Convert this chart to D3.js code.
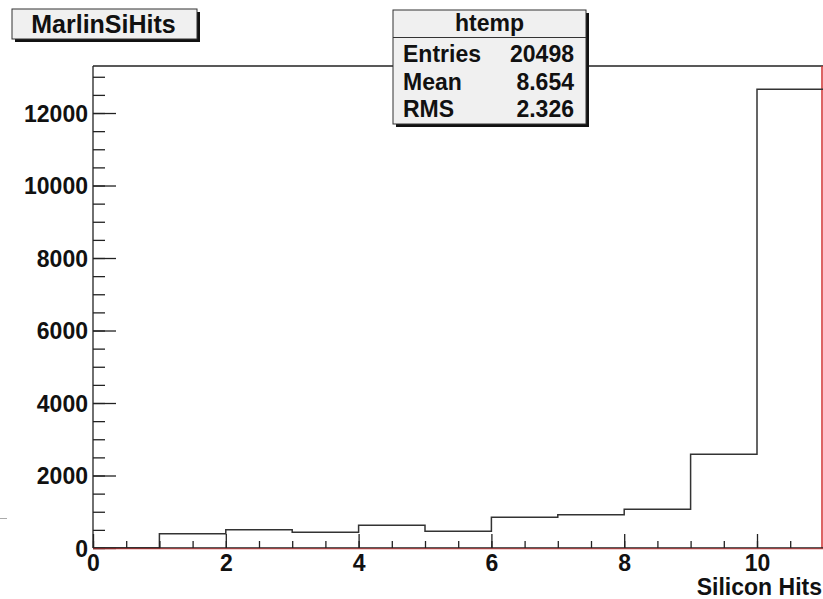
<!DOCTYPE html>
<html>
<head>
    <title>MarlinSiHits</title>
    <style>
        body { margin: 0; background: #fff; }
        svg { display: block; }
        text { font-family: "Liberation Sans", Arial, sans-serif; font-weight: bold; fill: #111; }
        .axis path, .axis line { stroke: #222; stroke-width: 1.3px; }
    </style>
    <script src="https://d3js.org/d3.v7.min.js"></script>
</head>
<body>
    <div id="chart"></div>
    <script>
        // histogram bins (lower edge, count)
        const binLow = [0, 1, 2, 3, 4, 5, 6, 7, 8, 9, 10];
        const counts = [0, 395, 505, 433, 626, 460, 847, 919, 1067, 2585, 12654];
        const binWidth = 1;

        const xMajor = [0, 2, 4, 6, 8, 10];
        const yMajor = [0, 2000, 4000, 6000, 8000, 10000, 12000];

        const histTitle = "MarlinSiHits";
        const statTitle = "htemp";
        const statNames = ["Entries", "Mean", "RMS"];
        const statValues = ["20498", "8.654", "2.326"];
        const xLabel = "Silicon Hits";

        const width = 823, height = 599;
        const m = { left: 93, right: 823.4, top: 66, bottom: 548 };
        const fs = "23px";

        const svg = d3.select("#chart").append("svg")
            .attr("width", width)
            .attr("height", height);

        const x = d3.scaleLinear().domain([0, 11]).range([m.left, m.right]);
        const y = d3.scaleLinear().domain([0, 13297]).range([m.bottom, m.top]);

        // frame
        svg.append("line")
            .attr("x1", m.left).attr("x2", width).attr("y1", m.top).attr("y2", m.top)
            .attr("stroke", "#222").attr("stroke-width", 1.5);
        svg.append("line")
            .attr("x1", width - 1).attr("x2", width - 1).attr("y1", m.top).attr("y2", m.bottom)
            .attr("stroke", "#d03030").attr("stroke-width", 1.5);

        // histogram outline
        const pts = [[x(binLow[0]), y(0)]];
        binLow.forEach((b, i) => {
            pts.push([x(b), y(counts[i])]);
            pts.push([x(b + binWidth), y(counts[i])]);
        });
        svg.append("path")
            .attr("d", d3.line()(pts))
            .attr("fill", "none")
            .attr("stroke", "#333")
            .attr("stroke-width", 1.5);

        // minor ticks
        svg.append("g")
            .attr("class", "axis")
            .attr("transform", `translate(${m.left},0)`)
            .call(d3.axisLeft(y).tickValues(d3.range(0, 13297, 500)).tickSize(-12).tickFormat(""))
            .call(g => g.select(".domain").remove());
        svg.append("g")
            .attr("class", "axis")
            .attr("transform", `translate(0,${m.bottom})`)
            .call(d3.axisBottom(x).tickValues(d3.range(0, 11, 0.5)).tickSize(-7).tickFormat(""))
            .call(g => g.select(".domain").remove());

        // major axes
        const yAxis = svg.append("g")
            .attr("class", "axis")
            .attr("transform", `translate(${m.left},0)`)
            .call(d3.axisLeft(y).tickValues(yMajor).tickFormat(d3.format("d"))
                .tickSize(-23).tickPadding(5).tickSizeOuter(0));
        yAxis.select(".domain").attr("d", `M0,${m.bottom}V${m.top}`);
        yAxis.selectAll("text").style("font-size", fs).attr("dy", "0.36em");

        const xAxis = svg.append("g")
            .attr("class", "axis")
            .attr("transform", `translate(0,${m.bottom})`)
            .call(d3.axisBottom(x).tickValues(xMajor).tickFormat(d3.format("d"))
                .tickSize(-14).tickPadding(7).tickSizeOuter(0));
        xAxis.select(".domain").attr("d", `M${m.left},0H${width}`);
        xAxis.selectAll("text").style("font-size", fs);

        svg.append("line")
            .attr("x1", m.left).attr("x2", width).attr("y1", m.bottom + 0.8).attr("y2", m.bottom + 0.8)
            .attr("stroke", "#d03030").attr("stroke-width", 0.8);

        svg.append("text")
            .attr("x", 822).attr("y", 595)
            .attr("text-anchor", "end")
            .style("font-size", fs)
            .text(xLabel);

        // small stray mark on the left
        svg.append("line")
            .attr("x1", 0).attr("x2", 7).attr("y1", 518.5).attr("y2", 518.5)
            .attr("stroke", "#aaa").attr("stroke-width", 1);

        // title box
        const tb = { x: 12, y: 9, w: 185, h: 30 };
        svg.append("rect")
            .attr("x", tb.x + 3).attr("y", tb.y + 3).attr("width", tb.w).attr("height", tb.h)
            .attr("fill", "#111");
        svg.append("rect")
            .attr("x", tb.x).attr("y", tb.y).attr("width", tb.w).attr("height", tb.h)
            .attr("fill", "#f0f0f0").attr("stroke", "#333").attr("stroke-width", 1);
        svg.append("text")
            .attr("x", tb.x + tb.w / 2 - 1).attr("y", tb.y + 24)
            .attr("text-anchor", "middle")
            .style("font-size", "25px")
            .text(histTitle);

        // stats box
        const sb = { x: 393, y: 10, w: 193, h: 114 };
        svg.append("rect")
            .attr("x", sb.x + 3).attr("y", sb.y + 3).attr("width", sb.w).attr("height", sb.h)
            .attr("fill", "#111");
        svg.append("rect")
            .attr("x", sb.x).attr("y", sb.y).attr("width", sb.w).attr("height", sb.h)
            .attr("fill", "#f0f0f0").attr("stroke", "#333").attr("stroke-width", 1);
        svg.append("line")
            .attr("x1", sb.x).attr("x2", sb.x + sb.w).attr("y1", 37.5).attr("y2", 37.5)
            .attr("stroke", "#333").attr("stroke-width", 1);
        svg.append("text")
            .attr("x", sb.x + sb.w / 2).attr("y", 31)
            .attr("text-anchor", "middle")
            .style("font-size", fs)
            .text(statTitle);

        const rowY = d3.scalePoint().domain(statNames).range([62, 117]);
        svg.selectAll(".statName")
            .data(statNames)
            .enter().append("text")
            .attr("class", "statName")
            .attr("x", 403)
            .attr("y", d => rowY(d))
            .style("font-size", fs)
            .text(d => d);
        svg.selectAll(".statValue")
            .data(statValues)
            .enter().append("text")
            .attr("class", "statValue")
            .attr("x", 574)
            .attr("y", (d, i) => rowY(statNames[i]))
            .attr("text-anchor", "end")
            .style("font-size", fs)
            .text(d => d);
    </script>
</body>
</html>
